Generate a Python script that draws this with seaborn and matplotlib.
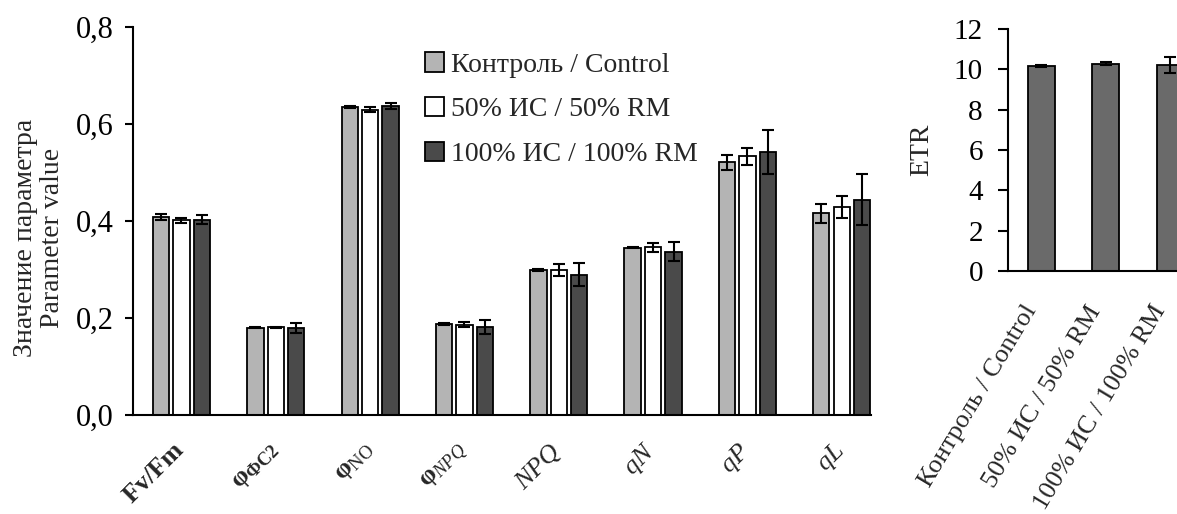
#chlorophyll fluorescence parameters + ETR bar charts

import pandas as pd
import seaborn as sns
import matplotlib.pyplot as plt
import matplotlib.transforms as mtransforms
from matplotlib.ticker import FuncFormatter

params = [r"$\mathbf{Fv/Fm}$", r"$\mathbf{φ}_{\mathbf{ФС2}}$", r"$\mathbf{φ}_{\mathrm{NO}}$",
          r"$\mathbf{φ}_{NPQ}$", r"$NPQ$", r"$qN$", r"$qP$", r"$qL$"]
groups = ["Контроль / Control", "50% ИС / 50% RM", "100% ИС / 100% RM"]

control = [0.408, 0.180, 0.634, 0.188, 0.299, 0.345, 0.521, 0.416]
rm50 = [0.401, 0.181, 0.629, 0.186, 0.299, 0.346, 0.533, 0.429]
rm100 = [0.403, 0.179, 0.637, 0.182, 0.289, 0.337, 0.542, 0.444]
err_control = [0.007, 0.001, 0.002, 0.002, 0.003, 0.001, 0.015, 0.020]
err_50 = [0.006, 0.001, 0.005, 0.005, 0.012, 0.009, 0.017, 0.023]
err_100 = [0.009, 0.010, 0.007, 0.014, 0.024, 0.019, 0.046, 0.052]

etr = [10.15, 10.28, 10.21]
etr_err = [0.04, 0.08, 0.40]

colors = ['#b4b4b4', '#ffffff', '#4a4a4a']


def main():
    sns.set_theme(style='white')
    plt.rcParams['font.family'] = ['Liberation Serif', 'DejaVu Serif']
    plt.rcParams['mathtext.fontset'] = 'custom'
    plt.rcParams['mathtext.rm'] = 'Liberation Serif'
    plt.rcParams['mathtext.it'] = 'Liberation Serif:italic'
    plt.rcParams['mathtext.bf'] = 'Liberation Serif:bold'

    df = pd.DataFrame({
        'param': params * 3,
        'group': [g for g in groups for _ in params],
        'value': control + rm50 + rm100,
    })

    fig = plt.figure(figsize=(11.77, 5.14), dpi=100)
    ax = fig.add_axes([0.113, 0.1926, 0.627, 0.755])
    ax2 = fig.add_axes([0.8564, 0.4728, 0.1653, 0.4708])

    sns.barplot(data=df, x='param', y='value', hue='group', palette=colors,
                width=0.65, gap=0.2, edgecolor='black', linewidth=1.3,
                errorbar=None, ax=ax)
    for cont, errs in zip(ax.containers, [err_control, err_50, err_100]):
        xs = [b.get_x() + b.get_width() / 2 for b in cont]
        ys = [b.get_height() for b in cont]
        ax.errorbar(xs, ys, yerr=errs, fmt='none', ecolor='black',
                    elinewidth=1.5, capsize=4, capthick=1.5)

    ax.set_xlim(-0.514, 7.31)
    ax.set_ylim(0, 0.8)
    ax.set_yticks([0, 0.2, 0.4, 0.6, 0.8])
    ax.yaxis.set_major_formatter(FuncFormatter(lambda v, _: f"{v:.1f}".replace('.', ',')))
    ax.set_xlabel('')
    ax.set_ylabel("Значение параметра\nParameter value", fontsize=20, linespacing=1.1)
    ax.yaxis.set_label_coords(-0.092, 0.456)
    sns.despine(ax=ax)
    for s in ['left', 'bottom']:
        ax.spines[s].set_linewidth(1.5)
        ax.spines[s].set_color('black')
    ax.tick_params(axis='y', left=True, length=6, width=1.5, labelsize=22, pad=8, colors='black')
    ax.tick_params(axis='x', length=0, labelsize=19, pad=17)
    shift = mtransforms.ScaledTranslation(8 / 100, 0, fig.dpi_scale_trans)
    for lab in ax.get_xticklabels():
        lab.set_rotation(45)
        lab.set_ha('right')
        lab.set_transform(lab.get_transform() + shift)

    handles, labels = ax.get_legend_handles_labels()
    ax.legend(handles, labels, loc='upper left', bbox_to_anchor=(0.395, 0.935),
              frameon=False, fontsize=20, handlelength=0.7, handleheight=0.7,
              handletextpad=0.25, labelspacing=0.7, borderpad=0, borderaxespad=0)

    # ETR panel
    sns.barplot(x=groups, y=etr, color='#6a6a6a', saturation=1, width=0.42,
                edgecolor='black', linewidth=1.3, ax=ax2)
    xs = [b.get_x() + b.get_width() / 2 for b in ax2.patches]
    ax2.errorbar(xs, etr, yerr=etr_err, fmt='none', ecolor='black',
                 elinewidth=1.5, capsize=4, capthick=1.5)
    ax2.set_xlim(-0.52, 2.5)
    ax2.set_ylim(0, 12)
    ax2.set_yticks(range(0, 13, 2))
    ax2.set_ylabel("ETR", fontsize=20, labelpad=14)
    sns.despine(ax=ax2)
    for s in ['left', 'bottom']:
        ax2.spines[s].set_linewidth(1.5)
        ax2.spines[s].set_color('black')
    ax2.tick_params(axis='y', left=True, length=7, width=1.5, labelsize=21, pad=11, colors='black')
    ax2.tick_params(axis='x', length=0, labelsize=19, pad=22)
    plt.setp(ax2.get_xticklabels(), rotation=59, ha='right')

    plt.savefig("out.png", dpi=100)


if __name__ == "__main__":
    main()
